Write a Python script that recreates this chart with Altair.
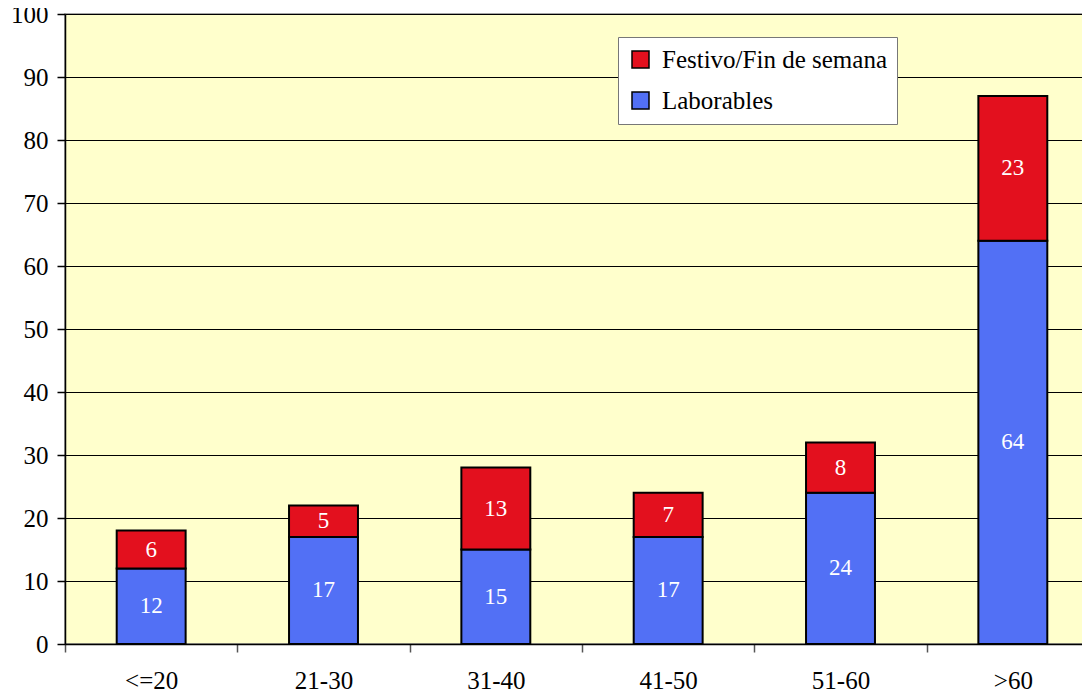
import altair as alt
import pandas as pd

categories = ["<=20", "21-30", "31-40", "41-50", "51-60", ">60"]
laborables = [12, 17, 15, 17, 24, 64]
festivo = [6, 5, 13, 7, 8, 23]
series = ["Festivo/Fin de semana", "Laborables"]
colors = ["#E3101E", "#5270F5"]

rows = []
for c, l, f in zip(categories, laborables, festivo):
    rows.append({"cat": c, "serie": "Laborables", "value": l, "ord": 0})
    rows.append({"cat": c, "serie": "Festivo/Fin de semana", "value": f, "ord": 1})
df = pd.DataFrame(rows)

FONT = "Liberation Serif"

base = alt.Chart(df).transform_stack(
    stack="value", groupby=["cat"], as_=["y0", "y1"],
    sort=[alt.SortField("ord", order="ascending")]
).transform_calculate(mid="(datum.y0 + datum.y1) / 2")

xscale = alt.Scale(paddingInner=0, paddingOuter=0)
yscale = alt.Scale(domain=[0, 100], nice=False)


def xaxis():
    return alt.Axis(labelAngle=0, tickBand="extent", grid=False, labelFont=FONT,
                    labelFontSize=25, labelColor="black", tickColor="#555555",
                    labelPadding=16)


def yaxis():
    return alt.Axis(values=list(range(0, 101, 10)), grid=True, labelFont=FONT,
                    labelFontSize=25, labelColor="black", labelPadding=9)


bars = base.mark_bar(stroke="black", strokeWidth=2,
                     width=alt.RelativeBandSize(0.4)).encode(
    x=alt.X("cat:N", sort=categories, title=None, scale=xscale, axis=xaxis()),
    y=alt.Y("y0:Q", scale=yscale, title=None, axis=yaxis()),
    y2="y1:Q",
    color=alt.Color("serie:N", scale=alt.Scale(domain=series, range=colors),
                    legend=alt.Legend(title=None, orient="none", legendX=553, legendY=23,
                                      labelFont=FONT, labelFontSize=25)),
)

text = base.mark_text(color="white", font=FONT, fontSize=23, baseline="middle").encode(
    x=alt.X("cat:N", sort=categories, scale=xscale, title=None, axis=xaxis()),
    y=alt.Y("mid:Q", scale=yscale, title=None, axis=yaxis()),
    text="value:Q",
)

chart = (bars + text).properties(
    width=1034, height=630,
    autosize=alt.AutoSizeParams(type="none"),
    padding={"left": 57, "top": 6, "right": -17, "bottom": 50},
).configure(
    font=FONT
).configure_view(
    fill="#FFFFCC", stroke="#888888", strokeWidth=1.5
).configure_axis(
    labelFont=FONT, labelFontSize=25, labelColor="black",
    tickColor="black", tickSize=8, tickWidth=1.5,
    domainColor="black", domainWidth=1.5,
    gridColor="black", gridWidth=1, gridOpacity=1,
).configure_legend(
    fillColor="white", strokeColor="#777777",
    padding=10, symbolType="square", symbolSize=289,
    symbolStrokeColor="black", symbolStrokeWidth=1.5,
    labelFont=FONT, labelFontSize=25, labelColor="black", labelLimit=400,
    rowPadding=15, labelOffset=9,
)

chart.save("out.html", embed_options={"renderer": "svg", "actions": False})
